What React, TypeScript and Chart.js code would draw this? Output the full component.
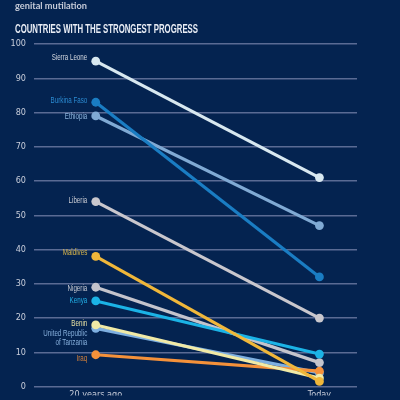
import React, { useEffect, useRef } from "react";
import { Chart, registerables } from "chart.js";

Chart.register(...registerables);

// ---- data ----
const countries = [
  "Maldives",
  "Benin",
  "Iraq",
  "United Republic of Tanzania",
  "Kenya",
  "Nigeria",
  "Burkina Faso",
  "Ethiopia",
  "Liberia",
  "Sierra Leone",
];
const valuesPast = [38, 18, 9.3, 17, 25, 29, 83, 79, 54, 95];
const valuesToday = [1.5, 2.5, 4.5, 4, 9.5, 7, 32, 47, 20, 61];
const periodLabels = ["20 years ago", "Today"];
const labelLines = [
  ["Maldives"],
  ["Benin"],
  ["Iraq"],
  ["United Republic", "of Tanzania"],
  ["Kenya"],
  ["Nigeria"],
  ["Burkina Faso"],
  ["Ethiopia"],
  ["Liberia"],
  ["Sierra Leone"],
];
const subtitle = "genital mutilation";
const heading = "COUNTRIES WITH THE STRONGEST PROGRESS";

// ---- styles ----
const BG = "#042350";
const lineColors = [
  "#f0b73a",
  "#f1eaa6",
  "#f5913a",
  "#7eafe0",
  "#1bb3e6",
  "#c4c4cc",
  "#1a7dc3",
  "#80aad4",
  "#c9c7cd",
  "#d8e8f0",
];
const labelColors = [
  "#d9b54a",
  "#e6e0a2",
  "#d7823a",
  "#86afdc",
  "#22b1e8",
  "#c9cbd3",
  "#2b8bd2",
  "#8db4dc",
  "#c9cbd3",
  "#d3d7e0",
];
const labelDy = [-3.5, -1, 3.3, 5.6, 0, 1.3, -1.5, 1, -1.5, -4];

function fitText(
  ctx: CanvasRenderingContext2D,
  text: string,
  x: number,
  y: number,
  width: number,
  font: string,
  color: string
) {
  ctx.save();
  ctx.font = font;
  const w = ctx.measureText(text).width;
  ctx.translate(x, y);
  ctx.scale(width / w, 1);
  ctx.fillStyle = color;
  ctx.textAlign = "left";
  ctx.textBaseline = "alphabetic";
  ctx.fillText(text, 0, 0);
  ctx.restore();
}

const labelPlugin = {
  id: "countryLabels",
  afterDatasetsDraw(chart: any) {
    const ctx: CanvasRenderingContext2D = chart.ctx;
    const xs = chart.scales.x;
    const ys = chart.scales.y;
    ctx.save();
    ctx.font = "9px 'Liberation Sans', Arial, sans-serif";
    const sx = 35.6 / ctx.measureText("Sierra Leone").width;
    ctx.textAlign = "right";
    ctx.textBaseline = "middle";
    const px = xs.getPixelForValue(0) - 8.5;
    countries.forEach((_, i) => {
      const py = ys.getPixelForValue(valuesPast[i]) + labelDy[i];
      labelLines[i].forEach((ln, j) => {
        ctx.save();
        ctx.translate(px, py + j * 8.7);
        ctx.scale(sx, 1);
        ctx.fillStyle = labelColors[i];
        ctx.fillText(ln, 0, 0);
        ctx.restore();
      });
    });
    ctx.restore();

    fitText(ctx, subtitle, 15, 8.5, 72, "bold 10px Lato, sans-serif", "#c6cbd8");
    fitText(
      ctx,
      heading,
      15,
      33,
      183,
      "bold 13px 'Liberation Sans', Arial, sans-serif",
      "#e9edf5"
    );
  },
};

export default function App() {
  const ref = useRef<HTMLCanvasElement | null>(null);

  useEffect(() => {
    document.body.style.background = BG;
    const canvas = ref.current;
    if (!canvas) return;
    const tickFont = {
      family: "'Liberation Sans Narrow', 'DejaVu Sans Condensed', sans-serif",
      size: 9,
    };
    const chart = new Chart(canvas, {
      type: "line",
      data: {
        datasets: countries.map((c, i) => ({
          label: c,
          data: [
            { x: 0, y: valuesPast[i] },
            { x: 1, y: valuesToday[i] },
          ],
          borderColor: lineColors[i],
          backgroundColor: lineColors[i],
          borderWidth: 3.2,
          pointRadius: 4.4,
          pointBorderWidth: 0,
          pointBackgroundColor: lineColors[i],
          tension: 0,
          clip: false as any,
        })),
      },
      options: {
        animation: false,
        responsive: false,
        events: [],
        layout: { padding: { top: 44, right: 43, bottom: 0, left: 0 } },
        plugins: {
          legend: { display: false },
          tooltip: { enabled: false },
          title: { display: false },
        },
        scales: {
          x: {
            type: "linear",
            min: -0.276,
            max: 1.168,
            grid: { display: false, drawTicks: false },
            border: { display: false },
            afterBuildTicks: (scale: any) => {
              scale.ticks = periodLabels.map((_, i) => ({ value: i }));
            },
            afterFit: (scale: any) => {
              scale.height = 9;
            },
            ticks: {
              color: "#c9cedb",
              font: tickFont,
              padding: 3,
              maxRotation: 0,
              autoSkip: false,
              callback: (v: any) => periodLabels[v] ?? "",
            },
          },
          y: {
            type: "linear",
            min: 0,
            max: 100,
            grid: { color: "#5a6b94", lineWidth: 1.5, drawTicks: false },
            border: { display: false },
            afterFit: (scale: any) => {
              scale.width = 34;
            },
            ticks: {
              stepSize: 10,
              color: "#c9cedb",
              font: tickFont,
              padding: 8,
            },
          },
        },
      },
      plugins: [labelPlugin],
    });
    return () => chart.destroy();
  }, []);

  return (
    <div
      style={{
        position: "absolute",
        left: 0,
        top: 0,
        width: 400,
        height: 400,
        background: BG,
        overflow: "hidden",
      }}
    >
      <canvas ref={ref} width={400} height={400} style={{ display: "block" }} />
    </div>
  );
}
